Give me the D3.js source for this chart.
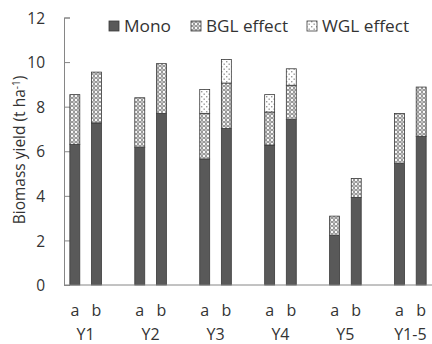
<!DOCTYPE html>
<html><head><meta charset="utf-8">
<script src="https://cdn.jsdelivr.net/npm/d3@7"></script>
<style>body{margin:0;background:#fff}svg{display:block}text{font-family:"Open Sans",sans-serif;fill:#333}</style>
</head><body><svg id="c" width="432" height="344"></svg>
<script>
const groups = ["Y1","Y2","Y3","Y4","Y5","Y1-5"];
const subs = ["a","b"];
const monoA = [6.31, 6.18, 5.65, 6.28, 2.22, 5.45];
const bglA  = [2.23, 2.22, 2.05, 1.48, 0.87, 2.24];
const wglA  = [0, 0, 1.07, 0.78, 0, 0];
const monoB = [7.27, 7.69, 7.02, 7.42, 3.93, 6.67];
const bglB  = [2.28, 2.24, 2.04, 1.54, 0.85, 2.21];
const wglB  = [0, 0, 1.06, 0.74, 0, 0];
const yTicks = [0,2,4,6,8,10,12];
const seriesNames = ["Mono","BGL effect","WGL effect"];

const svg = d3.select("#c");
const defs = svg.append("defs");
const pb = defs.append("pattern").attr("id","bgl").attr("patternUnits","userSpaceOnUse").attr("width",4).attr("height",4);
pb.append("rect").attr("width",4).attr("height",4).attr("fill","#fff");
pb.append("circle").attr("cx",2).attr("cy",2).attr("r",1.4).attr("fill","none").attr("stroke","#777").attr("stroke-width",1);
const pw = defs.append("pattern").attr("id","wgl").attr("patternUnits","userSpaceOnUse").attr("width",5).attr("height",5);
pw.append("rect").attr("width",5).attr("height",5).attr("fill","#fff");
pw.append("rect").attr("x",1).attr("y",1).attr("width",1.4).attr("height",1.4).attr("fill","#999");
pw.append("rect").attr("x",3.5).attr("y",3.5).attr("width",1.4).attr("height",1.4).attr("fill","#999");
const fills = ["#595959","url(#bgl)","url(#wgl)"];

const x0 = 64, yBottom = 285, yTop = 17.5;
const slots = [];
groups.forEach((g,i)=>{ slots.push(g+"|a", g+"|b"); if(i<groups.length-1) slots.push(g+"|gap"); });
const x = d3.scaleBand().domain(slots).range([x0, 432]).paddingInner(0.54).paddingOuter(0.27);
const y = d3.scaleLinear().domain([0,12]).range([yBottom, yTop]);

const ya = svg.append("g").attr("transform",`translate(${x0},0)`)
  .call(d3.axisRight(y).tickValues(yTicks).tickSize(6).tickFormat(d3.format("d")));
ya.select(".domain").attr("stroke","#868686");
ya.selectAll(".tick line").attr("stroke","#868686");
ya.selectAll(".tick text").attr("x",-19).attr("text-anchor","end").attr("dy","0.36em")
  .style("font-size","15.5px").attr("fill","#333");

const data = [];
groups.forEach((g,i)=>{
  [[monoA,bglA,wglA,"a"],[monoB,bglB,wglB,"b"]].forEach(([m,bg,wg,s])=>{
    const vals=[m[i],bg[i],wg[i]]; let acc=0;
    vals.forEach((v,k)=>{ data.push({key:g+"|"+s,y0:acc,y1:acc+v,k}); acc+=v; });
  });
});
svg.append("g").selectAll("rect").data(data.filter(d=>d.y1>d.y0)).join("rect")
  .attr("x",d=>x(d.key)).attr("width",x.bandwidth())
  .attr("y",d=>y(d.y1)).attr("height",d=>y(d.y0)-y(d.y1))
  .attr("fill",d=>fills[d.k]).attr("stroke","#3a3a3a").attr("stroke-width",0.8);

svg.append("line").attr("x1",x0).attr("x2",432).attr("y1",yBottom).attr("y2",yBottom).attr("stroke","#868686");

groups.forEach((g,i)=>{
  subs.forEach(s=>{
    svg.append("text").attr("x",x(g+"|"+s)+x.bandwidth()/2).attr("y",316)
      .attr("text-anchor","middle").style("font-size","16px").text(s);
  });
  const cx = (x(g+"|a")+x(g+"|b")+x.bandwidth())/2;
  svg.append("text").attr("x",cx).attr("y",340).attr("text-anchor","middle").style("font-size","16px").text(g);
});

const yt = svg.append("text").attr("transform","translate(25,150) rotate(-90)").attr("text-anchor","middle").style("font-size","15.5px");
yt.append("tspan").text("Biomass yield (t ha");
yt.append("tspan").attr("dy","-5").style("font-size","10px").text("-1");
yt.append("tspan").attr("dy","5").text(")");

const legX = [109, 191, 307];
const legW = [47, 82, 87];
seriesNames.forEach((n,i)=>{
  svg.append("rect").attr("x",legX[i]).attr("y",21).attr("width",10).attr("height",10)
    .attr("fill",fills[i]).attr("stroke","#3a3a3a").attr("stroke-width",0.8);
  svg.append("text").attr("x",legX[i]+15).attr("y",32).style("font-size","16px")
    .attr("textLength",legW[i]).attr("lengthAdjust","spacingAndGlyphs").text(n);
});
</script></body></html>
